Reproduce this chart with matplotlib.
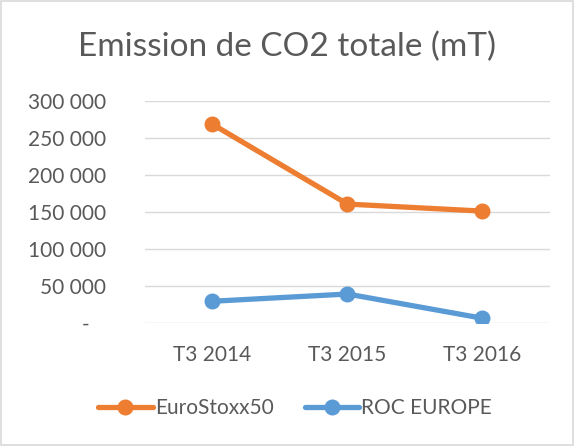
import matplotlib.pyplot as plt
from matplotlib.ticker import FuncFormatter
from matplotlib.patches import Rectangle

categories = ['T3 2014', 'T3 2015', 'T3 2016']
eurostoxx = [268500, 160500, 151000]
roc_europe = [29000, 38800, 6000]

plt.rcParams['font.family'] = ['Lato', 'DejaVu Sans']
grey = '#595959'

fig = plt.figure(figsize=(5.74, 4.46), dpi=100)
ax = fig.add_axes([0.2526, 0.2765, 0.7055, 0.497])

x = range(len(categories))
ax.plot(x, eurostoxx, color='#ED7D31', lw=3.8, marker='o', ms=10.5,
        label='EuroStoxx50', solid_capstyle='round')
ax.plot(x, roc_europe, color='#5B9BD5', lw=3.8, marker='o', ms=10.5,
        label='ROC EUROPE', solid_capstyle='round')

ax.set_xlim(-0.5, 2.5)
ax.set_ylim(0, 300000)
ax.set_yticks(range(0, 300001, 50000))
ax.set_xticks(list(x))
ax.set_xticklabels(categories)


def fmt(v, pos):
    if v == 0:
        return '-   '
    return '{:,.0f}'.format(v).replace(',', ' ')


ax.yaxis.set_major_formatter(FuncFormatter(fmt))
ax.grid(axis='y', color='#D9D9D9', lw=1)
ax.set_axisbelow(True)
for s in ax.spines.values():
    s.set_visible(False)
ax.tick_params(axis='both', length=0, labelsize=15, colors=grey)
ax.tick_params(axis='y', pad=28)
ax.tick_params(axis='x', pad=16)

fig.text(0.5, 0.895, 'Emission de CO2 totale (mT)', ha='center', va='center',
         fontsize=24, color=grey)

fig.legend(loc='center', bbox_to_anchor=(0.514, 0.085), ncol=2, frameon=False,
           fontsize=15, labelcolor=grey, handlelength=2.6, columnspacing=1.5,
           handletextpad=0.1)

fig.patches.append(Rectangle((0.002, 0.002), 0.996, 0.996, transform=fig.transFigure,
                             fill=False, edgecolor='#D9D9D9', lw=1.2))

fig.savefig('out.png', dpi=100)
